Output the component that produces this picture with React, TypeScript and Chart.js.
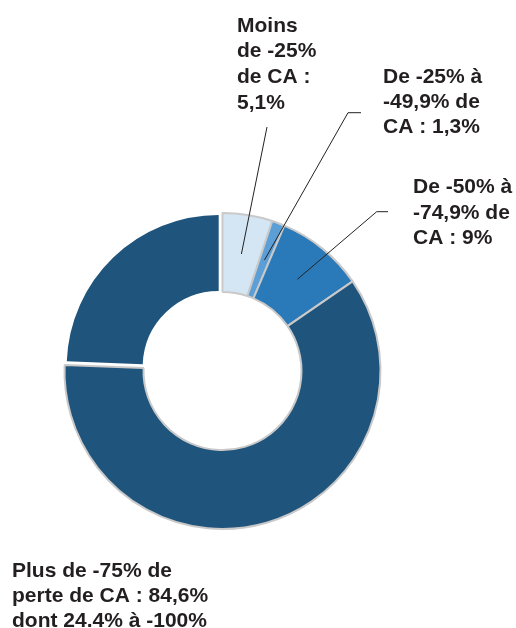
import React, { useEffect, useRef } from "react";
import { Chart, registerables } from "chart.js";

Chart.register(...registerables);

const categories = [
  "Moins de -25% de CA",
  "De -25% à -49,9% de CA",
  "De -50% à -74,9% de CA",
  "Plus de -75% de perte de CA (hors -100%)",
  "À -100%",
];
const shares = [5.1, 1.3, 9, 60.2, 24.4];
const sliceColors = ["#d4e6f4", "#5b9fd6", "#2a79b9", "#1f547d", "#1f547d"];
const sliceBorders = ["#c9c9c9", "#c9c9c9", "#c9c9c9", "#c9c9c9", "#ffffff"];
const sliceBorderWidths = [2, 2, 2, 2, 0];
const sliceOffsets = [0, 0, 0, 0, 22];
const explodedIndex = 4;
const explodedShrink = { outer: 6, inner: 3 };

const label1 = ["Moins", "de -25%", "de CA :", "5,1%"];
const label2 = ["De -25% à", "-49,9% de", "CA : 1,3%"];
const label3 = ["De -50% à", "-74,9% de", "CA : 9%"];
const label4 = ["Plus de -75% de", "perte de CA : 84,6%", "dont 24.4% à -100%"];

// annotation layout (text anchor, leader start / elbow)
const labelLayout = [
  { lines: label1, slice: 0, x: 237, y: 31.7, step: 25.6, leader: [[267, 127]] },
  { lines: label2, slice: 1, x: 383, y: 83.3, step: 25, leader: [[361, 112.7], [348, 112.7]] },
  { lines: label3, slice: 2, x: 413, y: 193.3, step: 25.5, leader: [[388, 211.7], [376.7, 211.7]] },
  { lines: label4, slice: -1, x: 12, y: 576.7, step: 25, leader: [] as number[][] },
];

const explodePlugin = {
  id: "explodedShrink",
  afterDatasetUpdate(chart: any) {
    const el = chart.getDatasetMeta(0).data[explodedIndex];
    if (!el) return;
    el.outerRadius = el.outerRadius - explodedShrink.outer;
    el.innerRadius = el.innerRadius - explodedShrink.inner;
  },
};

const labelPlugin = {
  id: "sliceLabels",
  afterDraw(chart: any) {
    const ctx = chart.ctx as CanvasRenderingContext2D;
    const meta = chart.getDatasetMeta(0);
    ctx.save();
    ctx.fillStyle = "#231f20";
    ctx.font = "bold 21px 'Liberation Sans', Arial, sans-serif";
    ctx.textBaseline = "alphabetic";
    ctx.textAlign = "left";
    for (const lab of labelLayout) {
      lab.lines.forEach((t, i) => ctx.fillText(t, lab.x, lab.y + i * lab.step));
      if (lab.slice >= 0 && lab.leader.length) {
        const el = meta.data[lab.slice];
        const p = el.tooltipPosition(false);
        ctx.beginPath();
        ctx.strokeStyle = "#222";
        ctx.lineWidth = 1;
        ctx.moveTo(lab.leader[0][0], lab.leader[0][1]);
        for (let k = 1; k < lab.leader.length; k++) ctx.lineTo(lab.leader[k][0], lab.leader[k][1]);
        ctx.lineTo(p.x, p.y);
        ctx.stroke();
      }
    }
    ctx.restore();
  },
};

export default function App() {
  const ref = useRef<HTMLCanvasElement | null>(null);
  useEffect(() => {
    if (!ref.current) return;
    const chart = new Chart(ref.current, {
      type: "doughnut",
      data: {
        labels: categories,
        datasets: [
          {
            data: shares,
            backgroundColor: sliceColors,
            borderColor: sliceBorders,
            borderWidth: sliceBorderWidths,
            offset: sliceOffsets,
          },
        ],
      },
      options: {
        animation: false,
        responsive: false,
        radius: 158,
        cutout: "50%",
        layout: { padding: { left: 0, right: 71, top: 114, bottom: 0 } },
        plugins: { legend: { display: false }, tooltip: { enabled: false } },
      } as any,
      plugins: [explodePlugin, labelPlugin],
    });
    return () => chart.destroy();
  }, []);
  return (
    <div style={{ position: "absolute", left: 0, top: 0, width: 516, height: 628, background: "#fff" }}>
      <canvas ref={ref} width={516} height={628} style={{ display: "block" }} />
    </div>
  );
}
